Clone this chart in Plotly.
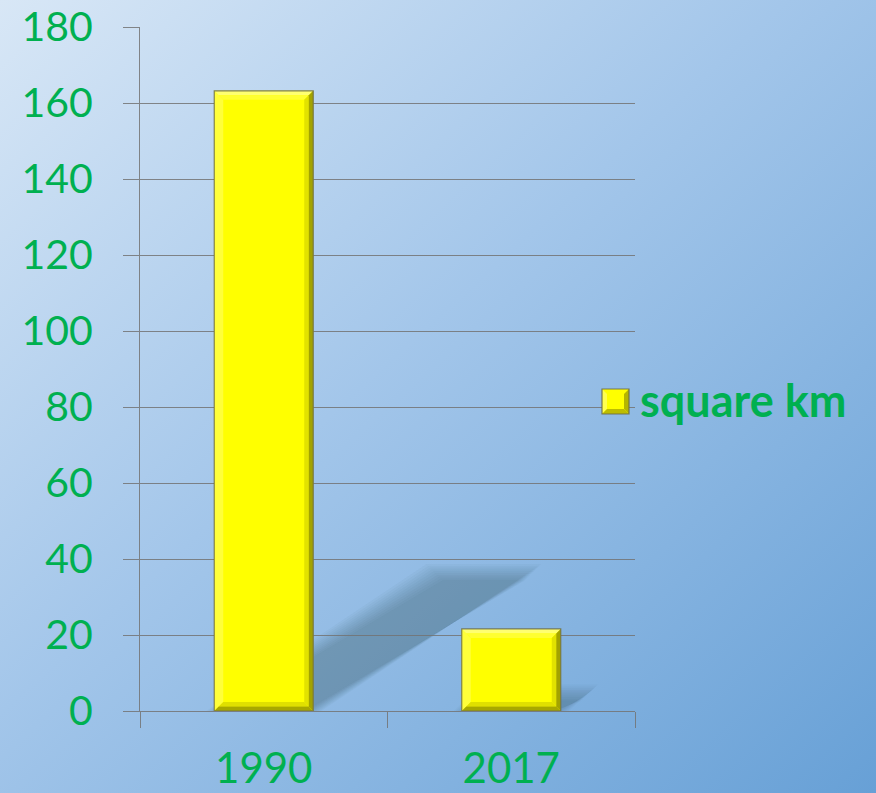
import base64
import plotly.graph_objects as go

# ---- data ----
categories = ["1990", "2017"]
values = [163.2, 21.6]
series_name = "square km"
y_ticks = [0, 20, 40, 60, 80, 100, 120, 140, 160, 180]

GREEN = "#00B050"
GRID = "rgba(115,115,115,0.85)"
FONT = "Lato, Open Sans, Liberation Sans, sans-serif"

W, H = 876, 793
ML, MR, MT, MB = 140, 241, 27, 82
PW, PH = W - ML - MR, H - MT - MB
YMAX = 180
BAR_W = 0.4

def px2x(p):
    return (p - ML) / PW

def py2y(p):
    return (H - MB - p) / PH

# background gradient (SVG data URI)
svg = f'''<svg xmlns="http://www.w3.org/2000/svg" width="{W}" height="{H}">
<defs><linearGradient id="g" x1="0" y1="0" x2="1" y2="1">
<stop offset="0" stop-color="#d8e7f6"/>
<stop offset="0.45" stop-color="#a3c6ea"/>
<stop offset="1" stop-color="#67a0d6"/>
</linearGradient></defs>
<rect width="{W}" height="{H}" fill="url(#g)"/></svg>'''
bg_src = "data:image/svg+xml;base64," + base64.b64encode(svg.encode()).decode()

fig = go.Figure()
fig.add_trace(go.Bar(
    x=categories, y=values, width=BAR_W, showlegend=False,
    marker=dict(color="#FFFF00", line=dict(width=0)),
    hoverinfo="x+y",
))
# legend entry (marker drawn as bevelled shape)
fig.add_trace(go.Scatter(
    x=[None], y=[None], mode="markers", name=series_name,
    marker=dict(color="rgba(0,0,0,0)", size=1), showlegend=True,
))

shapes = []

def poly(pts, fill, layer="above", xref="x", yref="y", line=None):
    d = "M" + " L".join(f"{a:.5f},{b:.5f}" for a, b in pts) + " Z"
    s = dict(type="path", path=d, xref=xref, yref=yref, fillcolor=fill,
             line=line or dict(width=0), layer=layer)
    shapes.append(s)

cat_px = PW / len(categories)
unit_px = PH / YMAX

for i, v in enumerate(values):
    L, R = i - BAR_W / 2, i + BAR_W / 2
    # soft perspective shadow, derived from bar geometry
    sx = 0.355 * v * unit_px / cat_px
    sy = 0.224 * v
    n = 10
    for k in range(n):
        d = -8 + k * 1.8          # px, negative = grown
        dx = d / cat_px
        dy = d / unit_px
        poly([(L + dx, 0), (R - dx, 0),
              (R - dx + sx, sy - dy), (L + dx + sx, sy - dy)],
             "rgba(30,50,75,0.03)", layer="below")
    # bevels
    bx = 9 / cat_px
    by = 9 / unit_px
    poly([(L, 0), (L, v), (L + bx, v - by), (L + bx, by)], "#FFFF3A")
    poly([(L, v), (R, v), (R - bx * 0.5, v - by * 0.5), (L + bx * 0.5, v - by * 0.5)], "#FFFF70")
    poly([(L + bx * 0.5, v - by * 0.5), (R - bx * 0.5, v - by * 0.5), (R - bx, v - by), (L + bx, v - by)], "#FFFF30")
    poly([(R - bx * 0.5, v - by * 0.5), (R - bx * 0.5, by * 0.5), (R - bx, by), (R - bx, v - by)], "#E2E200")
    poly([(R, v), (R, 0), (R - bx * 0.5, by * 0.5), (R - bx * 0.5, v - by * 0.5)], "#A3A300")
    poly([(L + bx * 0.5, by * 0.5), (R - bx * 0.5, by * 0.5), (R - bx, by), (L + bx, by)], "#E0E000")
    poly([(L, 0), (R, 0), (R - bx * 0.5, by * 0.5), (L + bx * 0.5, by * 0.5)], "#A8A800")
    shapes.append(dict(type="rect", xref="x", yref="y", x0=L, x1=R, y0=0, y1=v,
                       line=dict(color="rgba(110,110,70,0.85)", width=1.2),
                       fillcolor="rgba(0,0,0,0)", layer="above"))

# legend marker (bevelled square) in paper coords
lx0, lx1, ly0, ly1 = 602, 629, 389, 414
b = 5
def pp(a, c):
    return (px2x(a), py2y(c))
poly([pp(lx0, ly0), pp(lx1, ly0), pp(lx1, ly1), pp(lx0, ly1)], "#FFFF00", xref="paper", yref="paper")
poly([pp(lx0, ly1), pp(lx0, ly0), pp(lx0 + b, ly0 + b), pp(lx0 + b, ly1 - b)], "#FFFF50", xref="paper", yref="paper")
poly([pp(lx1, ly0), pp(lx1, ly1), pp(lx1 - b, ly1 - b), pp(lx1 - b, ly0 + b)], "#B5B500", xref="paper", yref="paper")
poly([pp(lx0, ly1), pp(lx1, ly1), pp(lx1 - b, ly1 - b), pp(lx0 + b, ly1 - b)], "#BDBD00", xref="paper", yref="paper")
shapes.append(dict(type="rect", xref="paper", yref="paper",
                   x0=px2x(lx0), x1=px2x(lx1), y0=py2y(ly1), y1=py2y(ly0),
                   line=dict(color="rgba(110,110,70,0.9)", width=1.2),
                   fillcolor="rgba(0,0,0,0)", layer="above"))

fig.update_layout(
    width=W, height=H, autosize=False,
    margin=dict(l=ML, r=MR, t=MT, b=MB, pad=0, autoexpand=False),
    paper_bgcolor="#a3c6ea", plot_bgcolor="rgba(0,0,0,0)",
    font=dict(family=FONT, color=GREEN),
    images=[dict(source=bg_src, xref="paper", yref="paper",
                 x=px2x(0), y=py2y(0), sizex=W / PW, sizey=H / PH,
                 xanchor="left", yanchor="top", sizing="stretch", layer="below")],
    shapes=shapes,
    showlegend=True,
    legend=dict(x=px2x(600), y=py2y(400), xanchor="left", yanchor="middle",
                bgcolor="rgba(0,0,0,0)", borderwidth=0, itemwidth=30,
                font=dict(family=FONT, size=45, color=GREEN, weight="bold")),
    bargap=0.6,
)
fig.update_xaxes(
    type="category", tickson="boundaries", ticks="outside", ticklen=16,
    tickcolor=GRID, tickwidth=1, showline=True, linecolor=GRID, linewidth=1,
    showgrid=False, zeroline=False, ticklabelstandoff=21, automargin=False,
    ticklabeloverflow="allow",
    tickfont=dict(family=FONT, size=42, color=GREEN), range=[-0.5, 1.5],
)
fig.update_yaxes(
    range=[0, YMAX], tickvals=y_ticks, ticks="outside", ticklen=16,
    tickcolor=GRID, tickwidth=1, showline=True, linecolor=GRID, linewidth=1,
    showgrid=True, gridcolor=GRID, gridwidth=1, zeroline=False,
    ticklabelstandoff=22, automargin=False, ticklabeloverflow="allow",
    tickfont=dict(family=FONT, size=41, color=GREEN),
)

fig.write_html("out.html", config={"displayModeBar": False},
               post_script="document.body.style.margin='0';document.body.style.overflow='hidden';")
